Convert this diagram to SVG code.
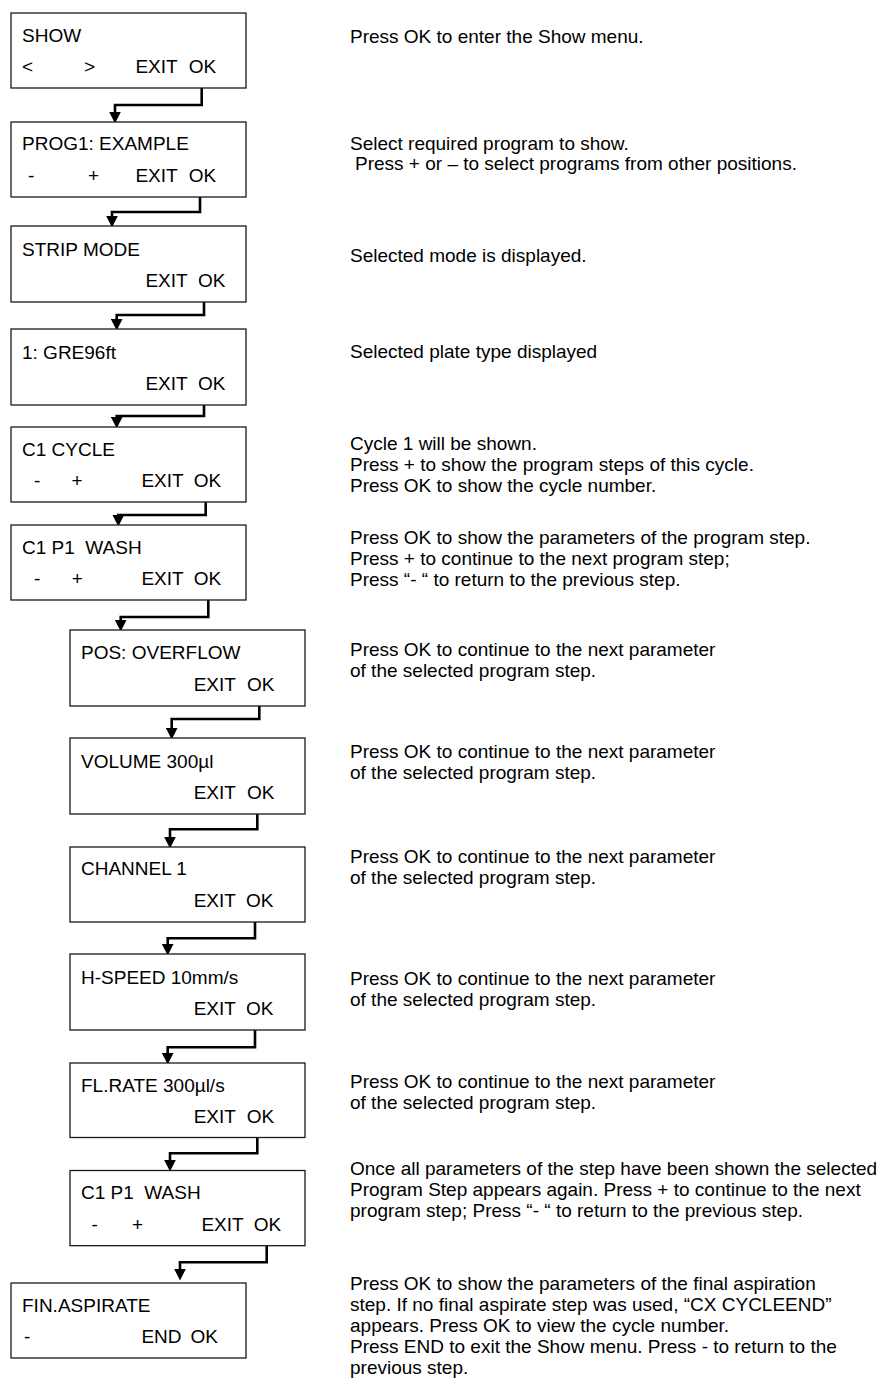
<svg xmlns="http://www.w3.org/2000/svg" width="882" height="1385" viewBox="0 0 882 1385">
<style>
text{font-family:"Liberation Sans",Arial,Helvetica,sans-serif;font-size:19px;fill:#000}
.box{fill:#fff;stroke:#1a1a1a;stroke-width:1.3}
.conn{fill:none;stroke:#000;stroke-width:2.6;stroke-linejoin:miter}
</style>
<defs>
<marker id="ah" markerUnits="userSpaceOnUse" markerWidth="12" markerHeight="12" viewBox="0 0 10 10" refX="2" refY="5" orient="auto">
<path d="M0,0 L10,5 L0,10 z" fill="#000"/>
</marker>
</defs>
<rect width="882" height="1385" fill="#fff"/>

<g id="connectors">
<path class="conn" marker-end="url(#ah)" d="M201.7,88 V105 H115 V114"/>
<path class="conn" marker-end="url(#ah)" d="M200,197 V212 H112 V218"/>
<path class="conn" marker-end="url(#ah)" d="M204,302 V315 H116.7 V321"/>
<path class="conn" marker-end="url(#ah)" d="M204,405 V416 H116.7 V419"/>
<path class="conn" marker-end="url(#ah)" d="M205.7,502 V515 H118.3 V517"/>
<path class="conn" marker-end="url(#ah)" d="M208.3,600 V617 H120.7 V622"/>
<path class="conn" marker-end="url(#ah)" d="M259.3,706 V719 H171.7 V730"/>
<path class="conn" marker-end="url(#ah)" d="M257.3,814 V829.3 H170 V839"/>
<path class="conn" marker-end="url(#ah)" d="M255,922 V938.3 H167.7 V946"/>
<path class="conn" marker-end="url(#ah)" d="M255,1030 V1047.3 H167.7 V1055"/>
<path class="conn" marker-end="url(#ah)" d="M257.3,1137.5 V1153.3 H170 V1162"/>
<path class="conn" marker-end="url(#ah)" d="M266.7,1245.7 V1262.3 H180 V1271"/>
</g>

<g id="n1"><rect class="box" x="11" y="13" width="235" height="75"/>
<text x="22" y="42">SHOW</text><text x="22" y="73">&lt;</text><text x="84" y="73">&gt;</text><text x="135.4" y="73">EXIT</text><text x="188.7" y="73">OK</text></g>
<g id="n2"><rect class="box" x="11" y="122" width="235" height="75"/>
<text x="22" y="150">PROG1: EXAMPLE</text><text x="28" y="182">-</text><text x="88" y="182">+</text><text x="135.4" y="182">EXIT</text><text x="188.7" y="182">OK</text></g>
<g id="n3"><rect class="box" x="11" y="226" width="235" height="76"/>
<text x="22" y="256">STRIP MODE</text><text x="145.4" y="287">EXIT</text><text x="198" y="287">OK</text></g>
<g id="n4"><rect class="box" x="11" y="329" width="235" height="76"/>
<text x="22" y="359">1: GRE96ft</text><text x="145.4" y="390">EXIT</text><text x="198" y="390">OK</text></g>
<g id="n5"><rect class="box" x="11" y="427" width="235" height="75"/>
<text x="22" y="456">C1 CYCLE</text><text x="34" y="487">-</text><text x="71.5" y="487">+</text><text x="141.4" y="487">EXIT</text><text x="193.7" y="487">OK</text></g>
<g id="n6"><rect class="box" x="11" y="525" width="235" height="75"/>
<text x="22" y="554" xml:space="preserve">C1 P1  WASH</text><text x="34" y="585">-</text><text x="71.7" y="585">+</text><text x="141.4" y="585">EXIT</text><text x="193.7" y="585">OK</text></g>
<g id="n7"><rect class="box" x="70" y="630" width="235" height="76"/>
<text x="81" y="659">POS: OVERFLOW</text><text x="193.7" y="691">EXIT</text><text x="247" y="691">OK</text></g>
<g id="n8"><rect class="box" x="70" y="738" width="235" height="76"/>
<text x="81" y="768">VOLUME 300µl</text><text x="193.7" y="799">EXIT</text><text x="247" y="799">OK</text></g>
<g id="n9"><rect class="box" x="70" y="847" width="235" height="75"/>
<text x="81" y="875">CHANNEL 1</text><text x="193.7" y="906.7">EXIT</text><text x="246" y="906.7">OK</text></g>
<g id="n10"><rect class="box" x="70" y="954" width="235" height="76"/>
<text x="81" y="984">H-SPEED 10mm/s</text><text x="193.7" y="1015">EXIT</text><text x="246" y="1015">OK</text></g>
<g id="n11"><rect class="box" x="70" y="1063" width="235" height="74.5"/>
<text x="81" y="1091.7">FL.RATE 300µl/s</text><text x="193.7" y="1122.7">EXIT</text><text x="246.7" y="1122.7">OK</text></g>
<g id="n12"><rect class="box" x="70" y="1170.5" width="235" height="75.2"/>
<text x="81" y="1199" xml:space="preserve">C1 P1  WASH</text><text x="91.5" y="1230.7">-</text><text x="132" y="1230.7">+</text><text x="201.4" y="1230.7">EXIT</text><text x="253.7" y="1230.7">OK</text></g>
<g id="n13"><rect class="box" x="11" y="1283" width="235" height="75"/>
<text x="22" y="1312">FIN.ASPIRATE</text><text x="24" y="1343">-</text><text x="141.4" y="1343">END</text><text x="190.4" y="1343">OK</text></g>

<g id="notes">
<text x="350" y="43">Press OK to enter the Show menu.</text>
<text x="350" y="149.5">Select required program to show.</text>
<text x="355" y="170.3">Press + or – to select programs from other positions.</text>
<text x="350" y="262">Selected mode is displayed.</text>
<text x="350" y="357.5">Selected plate type displayed</text>
<text x="350" y="450">Cycle 1 will be shown.</text>
<text x="350" y="471">Press + to show the program steps of this cycle.</text>
<text x="350" y="492">Press OK to show the cycle number.</text>
<text x="350" y="544">Press OK to show the parameters of the program step.</text>
<text x="350" y="565">Press + to continue to the next program step;</text>
<text x="350" y="586">Press “- “ to return to the previous step.</text>
<text x="350" y="656">Press OK to continue to the next parameter</text>
<text x="350" y="677">of the selected program step.</text>
<text x="350" y="758">Press OK to continue to the next parameter</text>
<text x="350" y="779">of the selected program step.</text>
<text x="350" y="863">Press OK to continue to the next parameter</text>
<text x="350" y="884">of the selected program step.</text>
<text x="350" y="985">Press OK to continue to the next parameter</text>
<text x="350" y="1006">of the selected program step.</text>
<text x="350" y="1088">Press OK to continue to the next parameter</text>
<text x="350" y="1109">of the selected program step.</text>
<text x="350" y="1175">Once all parameters of the step have been shown the selected</text>
<text x="350" y="1196">Program Step appears again. Press + to continue to the next</text>
<text x="350" y="1217">program step; Press “- “ to return to the previous step.</text>
<text x="350" y="1290">Press OK to show the parameters of the final aspiration</text>
<text x="350" y="1311">step. If no final aspirate step was used, “CX CYCLEEND”</text>
<text x="350" y="1332">appears. Press OK to view the cycle number.</text>
<text x="350" y="1353">Press END to exit the Show menu. Press - to return to the</text>
<text x="350" y="1374">previous step.</text>
</g>
</svg>
